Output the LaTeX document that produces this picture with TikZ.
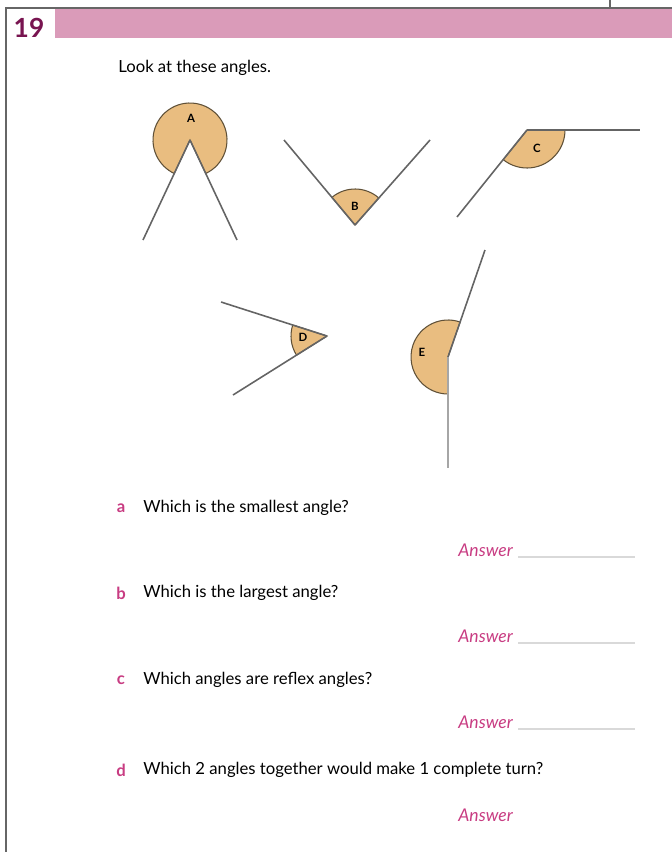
\documentclass[tikz,border=0pt]{standalone}
\usepackage{xcolor}
\usepackage{fontspec}
\setmainfont{Lato}
\usepackage{tikz}
\usetikzlibrary{shapes,positioning}
\definecolor{barpink}{RGB}{218,155,185}
\definecolor{numpink}{RGB}{120,20,80}
\definecolor{qpink}{RGB}{200,60,130}
\definecolor{tan}{RGB}{233,189,128}
\definecolor{edge}{RGB}{95,80,55}
\definecolor{ray}{RGB}{100,100,100}
\tikzset{sector/.style={fill=tan,draw=edge,line width=0.6pt},
  arm/.style={draw=ray,line width=0.9pt},
  tag/.style={font=\fontsize{6.5}{6.5}\selectfont\bfseries,inner sep=0pt},
  qtext/.style={anchor=west,font=\fontsize{9.5}{11}\selectfont,inner sep=0pt},
  qletter/.style={font=\fontsize{9.5}{11}\selectfont\bfseries,text=qpink,inner sep=0pt},
  answer/.style={anchor=west,font=\fontsize{10}{11}\selectfont\itshape,text=qpink,inner sep=0pt},
  rule/.style={draw=black!15,line width=0.6pt}}

\begin{document}
\begin{tikzpicture}[x=0.02cm,y=0.02cm]
    \useasboundingbox (0,0) rectangle (672,-852);
    \draw [black!60,line width=0.8pt] (6,-852) -- (6,-8) -- (672,-8);
    \draw [black!60,line width=0.8pt] (610,0) -- (610,-8);
    \fill [barpink] (55,-9) rectangle (672,-38);
    \node[text=numpink,font=\fontsize{15}{15}\selectfont\bfseries] (num) at (29,-28) {19};
    \node[qtext] (intro) at (118,-68) {Look at these angles.};

    \coordinate (va) at (190,-140);
    \coordinate (a1) at (143,-240);
    \coordinate (a2) at (237,-240);
    \coordinate (vb) at (355,-225);
    \coordinate (b1) at (284,-140);
    \coordinate (b2) at (430,-140);
    \coordinate (vc) at (527,-130);
    \coordinate (c1) at (640,-130);
    \coordinate (c2) at (457,-217);
    \coordinate (vd) at (327,-336);
    \coordinate (d1) at (221,-302);
    \coordinate (d2) at (233,-395);
    \coordinate (ve) at (448,-357);
    \coordinate (e1) at (485,-250);
    \coordinate (e2) at (448,-468);

    \filldraw [sector] (va) -- ++(-64.8:37) arc[start angle=-64.8,end angle=244.8,radius=37] -- cycle;
    \filldraw [sector] (vb) -- ++(48.6:36) arc[start angle=48.6,end angle=129.9,radius=36] -- cycle;
    \filldraw [sector] (vc) -- ++(-128.8:38) arc[start angle=-128.8,end angle=0,radius=38] -- cycle;
    \filldraw [sector] (vd) -- ++(162.2:36) arc[start angle=162.2,end angle=212.1,radius=36] -- cycle;
    \filldraw [sector] (ve) -- ++(70.9:37) arc[start angle=70.9,end angle=270,radius=37] -- cycle;

    \draw [arm] (va) to [] (a1);
    \draw [arm] (va) to [] (a2);
    \draw [arm] (vb) to [] (b1);
    \draw [arm] (vb) to [] (b2);
    \draw [arm] (vc) to [] (c1);
    \draw [arm] (vc) to [] (c2);
    \draw [arm] (vd) to [] (d1);
    \draw [arm] (vd) to [] (d2);
    \draw [arm] (ve) to [] (e1);
    \draw [arm,draw=black!35] (ve) to [] (e2);

    \node[tag] (la) at (191,-118) {A};
    \node[tag] (lb) at (355,-206) {B};
    \node[tag] (lc) at (537,-148) {C};
    \node[tag] (ld) at (303,-337) {D};
    \node[tag] (le) at (422,-352) {E};

    \node[qletter] (qa) at (121,-508) {a};
    \node[qtext] (ta) at (143,-508) {Which is the smallest angle?};
    \node[answer] (ansa) at (458,-550) {Answer};
    \draw [rule] (518,-557) -- (635,-557);

    \node[qletter] (qb) at (121,-593) {b};
    \node[qtext] (tb) at (143,-593) {Which is the largest angle?};
    \node[answer] (ansb) at (458,-636) {Answer};
    \draw [rule] (518,-643) -- (635,-643);

    \node[qletter] (qc) at (121,-680) {c};
    \node[qtext] (tc) at (143,-680) {Which angles are reflex angles?};
    \node[answer] (ansc) at (458,-722) {Answer};
    \draw [rule] (518,-729) -- (635,-729);

    \node[qletter] (qd) at (121,-770) {d};
    \node[qtext] (td) at (143,-770) {Which 2 angles together would make 1 complete turn?};
    \node[answer] (ansd) at (458,-815) {Answer};
\end{tikzpicture}
\end{document}
